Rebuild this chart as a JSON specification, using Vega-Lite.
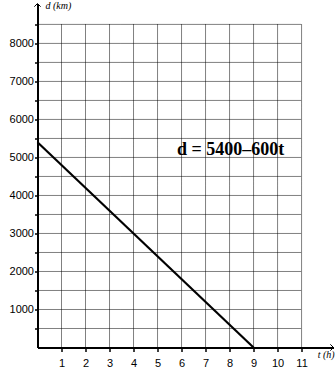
{
  "$schema": "https://vega.github.io/schema/vega-lite/v6.json",
  "width": 296,
  "height": 344,
  "autosize": {"type": "none"},
  "padding": {"left": 37.5, "top": 3.5, "right": 2.5, "bottom": 36.5},
  "background": "white",
  "config": {"view": {"stroke": null}},
  "datasets": {
    "line": [{"t": 0, "d": 5400}, {"t": 9, "d": 0}],
    "vgrid": [
      {"t": 1, "d0": 0, "d1": 8500}, {"t": 2, "d0": 0, "d1": 8500}, {"t": 3, "d0": 0, "d1": 8500},
      {"t": 4, "d0": 0, "d1": 8500}, {"t": 5, "d0": 0, "d1": 8500}, {"t": 6, "d0": 0, "d1": 8500},
      {"t": 7, "d0": 0, "d1": 8500}, {"t": 8, "d0": 0, "d1": 8500}, {"t": 9, "d0": 0, "d1": 8500},
      {"t": 10, "d0": 0, "d1": 8500}, {"t": 11, "d0": 0, "d1": 8500}
    ],
    "hgrid": [
      {"d": 500, "t0": 0, "t1": 11}, {"d": 1000, "t0": 0, "t1": 11}, {"d": 1500, "t0": 0, "t1": 11},
      {"d": 2000, "t0": 0, "t1": 11}, {"d": 2500, "t0": 0, "t1": 11}, {"d": 3000, "t0": 0, "t1": 11},
      {"d": 3500, "t0": 0, "t1": 11}, {"d": 4000, "t0": 0, "t1": 11}, {"d": 4500, "t0": 0, "t1": 11},
      {"d": 5000, "t0": 0, "t1": 11}, {"d": 5500, "t0": 0, "t1": 11}, {"d": 6000, "t0": 0, "t1": 11},
      {"d": 6500, "t0": 0, "t1": 11}, {"d": 7000, "t0": 0, "t1": 11}, {"d": 7500, "t0": 0, "t1": 11},
      {"d": 8000, "t0": 0, "t1": 11}, {"d": 8500, "t0": 0, "t1": 11}
    ],
    "labels": [
      {"t": 0.33, "d": 8974, "label": "d (km)"},
      {"t": 11.67, "d": -210, "label": "t (h)"}
    ],
    "arrows": [
      {"t": 0, "d": 9050, "dir": "up"},
      {"t": 12.33, "d": 0, "dir": "right"}
    ]
  },
  "encoding": {
    "x": {
      "type": "quantitative",
      "scale": {"domain": [0, 12.33], "nice": false, "zero": false},
      "axis": {
        "values": [1, 2, 3, 4, 5, 6, 7, 8, 9, 10, 11],
        "title": null, "grid": false,
        "domainColor": "black", "domainWidth": 2,
        "tickColor": "black", "tickSize": 4, "tickWidth": 1.5,
        "labelColor": "black", "labelFont": "Liberation Sans", "labelFontSize": 11,
        "labelPadding": 6
      }
    },
    "y": {
      "type": "quantitative",
      "scale": {"domain": [0, 9050], "nice": false, "zero": false},
      "axis": {
        "values": [500, 1000, 1500, 2000, 2500, 3000, 3500, 4000, 4500, 5000, 5500, 6000, 6500, 7000, 7500, 8000, 8500],
        "labelExpr": "datum.value % 1000 === 0 ? datum.value : ''",
        "title": null, "grid": false,
        "domainColor": "black", "domainWidth": 2,
        "tickColor": "black", "tickSize": 3, "tickWidth": 1.5,
        "labelColor": "black", "labelFont": "Liberation Sans", "labelFontSize": 11,
        "labelPadding": 1
      }
    }
  },
  "layer": [
    {
      "data": {"name": "vgrid"},
      "mark": {"type": "rule", "color": "black", "strokeWidth": 1, "strokeDash": [1, 1]},
      "encoding": {
        "x": {"field": "t", "type": "quantitative"},
        "y": {"field": "d0", "type": "quantitative"},
        "y2": {"field": "d1"}
      }
    },
    {
      "data": {"name": "hgrid"},
      "mark": {"type": "rule", "color": "black", "strokeWidth": 1, "strokeDash": [1, 1]},
      "encoding": {
        "y": {"field": "d", "type": "quantitative"},
        "x": {"field": "t0", "type": "quantitative"},
        "x2": {"field": "t1"}
      }
    },
    {
      "data": {"name": "line"},
      "mark": {"type": "line", "color": "black", "strokeWidth": 2.2},
      "encoding": {
        "x": {"field": "t", "type": "quantitative"},
        "y": {"field": "d", "type": "quantitative"}
      }
    },
    {
      "data": {"values": [{"t": 8.04, "d": 5184, "label": "d = 5400–600t"}]},
      "mark": {"type": "text", "font": "Liberation Serif", "fontWeight": "bold", "fontSize": 18, "color": "black", "align": "center", "baseline": "middle"},
      "encoding": {
        "x": {"field": "t", "type": "quantitative"},
        "y": {"field": "d", "type": "quantitative"},
        "text": {"field": "label"}
      }
    },
    {
      "data": {"name": "labels"},
      "mark": {"type": "text", "font": "Liberation Serif", "fontStyle": "italic", "fontSize": 10, "color": "black", "align": "left", "baseline": "middle"},
      "encoding": {
        "x": {"field": "t", "type": "quantitative"},
        "y": {"field": "d", "type": "quantitative"},
        "text": {"field": "label"}
      }
    },
    {
      "data": {"name": "arrows"},
      "mark": {"type": "point", "filled": false, "color": "black", "strokeWidth": 1, "size": 40, "opacity": 1},
      "encoding": {
        "x": {"field": "t", "type": "quantitative"},
        "y": {"field": "d", "type": "quantitative"},
        "shape": {
          "field": "dir", "type": "nominal",
          "scale": {"domain": ["up", "right"], "range": ["M-1,1L0,0L1,1", "M-1,-1L0,0L-1,1"]},
          "legend": null
        }
      }
    }
  ]
}
